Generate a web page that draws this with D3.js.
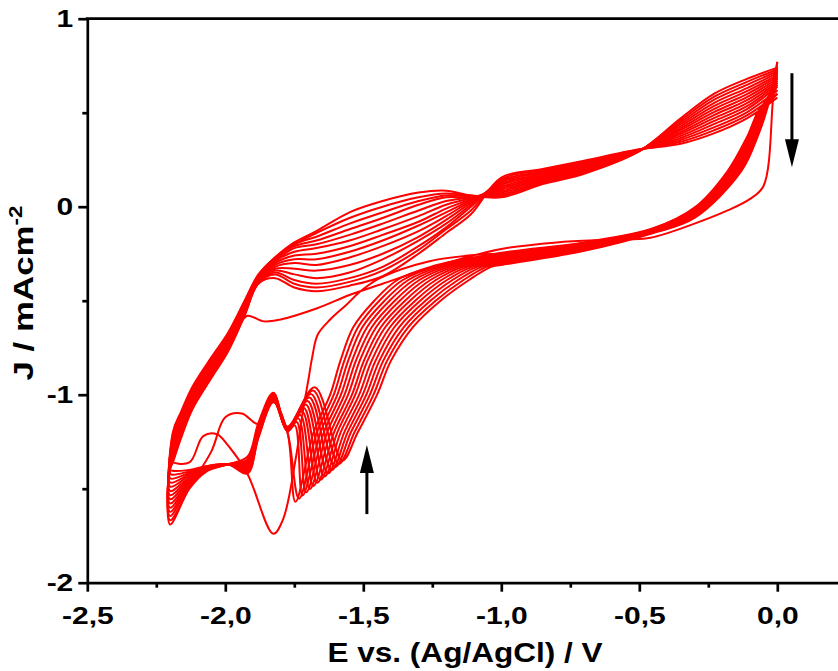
<!DOCTYPE html>
<html>
<head>
<meta charset="utf-8">
<script src="https://cdn.jsdelivr.net/npm/d3@7"></script>
<style>
  html, body { margin: 0; padding: 0; background: #fff; }
  svg { display: block; }
  text { font-family: Arial, "Liberation Sans", sans-serif; font-weight: bold; fill: #000; }
</style>
</head>
<body>
<svg id="chart" width="838" height="671"></svg>
<script>
// Cyclic voltammogram, 15 consecutive cycles: [E (V vs Ag/AgCl), J (mA cm^-2)]
const cycle1 = [[0,0.60],[-0.04,0.53],[-0.09,0.37],[-0.155,0.19],[-0.30,-0.03],[-0.45,-0.128],[-0.70,-0.213],[-1.00,-0.25],[-1.08,-0.255],[-1.26,-0.29],[-1.44,-0.38],[-1.51,-0.45],[-1.56,-0.52],[-1.62,-0.60],[-1.665,-0.68],[-1.685,-0.80],[-1.70,-0.93],[-1.717,-1.07],[-1.746,-1.35],[-1.79,-1.66],[-1.826,-1.74],[-1.92,-1.42],[-1.99,-1.27],[-2.03,-1.21],[-2.08,-1.22],[-2.13,-1.36],[-2.2,-1.35],
  [-2.19,-1.28],[-2.16,-1.17],[-2.12,-1.03],[-2.05,-0.87],[-1.99,-0.74],[-1.95,-0.63],[-1.92,-0.58],[-1.86,-0.61],[-1.80,-0.60],[-1.667,-0.54],[-1.55,-0.47],[-1.43,-0.41],[-1.30,-0.345],[-1.20,-0.30],[-1.00,-0.225],[-0.80,-0.19],[-0.60,-0.175],[-0.46,-0.165],[-0.30,-0.09],[-0.18,-0.02],[-0.10,0.04],[-0.05,0.11],[-0.015,0.58],[0,0.77]];
const cycle2 = [[0,0.77],[-0.035,0.53],[-0.072,0.37],[-0.13,0.19],[-0.30,-0.060],[-0.45,-0.140],[-0.70,-0.235],[-1.00,-0.310],[-1.037,-0.32],[-1.117,-0.39],[-1.220,-0.50],[-1.320,-0.64],[-1.400,-0.82],[-1.450,-1.0],[-1.520,-1.2],[-1.576,-1.350],[-1.676,-0.960],[-1.775,-1.170],[-1.826,-0.990],[-1.88,-1.150],[-1.92,-1.330],[-1.99,-1.37],[-2.07,-1.410],[-2.13,-1.500],[-2.2,-1.690],
  [-2.19,-1.200],[-2.16,-1.090],[-2.12,-0.960],[-2.05,-0.800],[-1.99,-0.670],[-1.93,-0.500],[-1.88,-0.360],
  [-1.82,-0.27],[-1.75,-0.19],[-1.67,-0.13],[-1.55,-0.03],[-1.43,0.03],[-1.30,0.075],[-1.20,0.085],[-1.11,0.06],
  [-1.00,0.050],[-0.85,0.120],[-0.70,0.175],[-0.50,0.295],[-0.35,0.470],[-0.23,0.600],[-0.11,0.680],[0,0.74]];
const cycle3 = [[0,0.74],[-0.037,0.53],[-0.075,0.37],[-0.134,0.19],[-0.30,-0.056],[-0.45,-0.138],[-0.70,-0.232],[-1.00,-0.305],[-1.054,-0.32],[-1.137,-0.39],[-1.238,-0.50],[-1.337,-0.64],[-1.414,-0.82],[-1.463,-1.0],[-1.532,-1.2],[-1.589,-1.367],[-1.682,-0.978],[-1.775,-1.172],[-1.826,-0.994],[-1.88,-1.156],[-1.94,-1.10],[-2.00,-1.12],[-2.05,-1.30],[-2.13,-1.492],[-2.2,-1.668],
  [-2.19,-1.212],[-2.16,-1.101],[-2.12,-0.969],[-2.05,-0.808],[-1.99,-0.678],[-1.93,-0.506],[-1.88,-0.364],
  [-1.82,-0.27],[-1.75,-0.20],[-1.67,-0.14],[-1.55,-0.06],[-1.43,0.00],[-1.30,0.05],[-1.20,0.07],[-1.11,0.06],
  [-1.00,0.058],[-0.85,0.126],[-0.70,0.180],[-0.50,0.296],[-0.35,0.460],[-0.23,0.584],[-0.11,0.664],[0,0.73]];
const cycle4 = [[0,0.73],[-0.039,0.53],[-0.078,0.37],[-0.138,0.19],[-0.30,-0.052],[-0.45,-0.136],[-0.70,-0.228],[-1.00,-0.300],[-1.071,-0.32],[-1.157,-0.39],[-1.257,-0.50],[-1.353,-0.64],[-1.428,-0.82],[-1.476,-1.0],[-1.545,-1.2],[-1.602,-1.384],[-1.689,-0.997],[-1.775,-1.175],[-1.826,-0.998],[-1.88,-1.162],[-1.92,-1.344],[-1.99,-1.37],[-2.07,-1.405],[-2.13,-1.485],[-2.2,-1.645],
  [-2.19,-1.225],[-2.16,-1.112],[-2.12,-0.978],[-2.05,-0.817],[-1.99,-0.685],[-1.93,-0.512],[-1.88,-0.368],
  [-1.82,-0.28],[-1.75,-0.20],[-1.67,-0.16],[-1.55,-0.09],[-1.43,-0.03],[-1.30,0.03],[-1.20,0.06],[-1.11,0.055],
  [-1.00,0.066],[-0.85,0.132],[-0.70,0.186],[-0.50,0.297],[-0.35,0.449],[-0.23,0.568],[-0.11,0.648],[0,0.72]];
const cycle5 = [[0,0.72],[-0.041,0.53],[-0.081,0.37],[-0.142,0.19],[-0.30,-0.047],[-0.45,-0.134],[-0.70,-0.225],[-1.00,-0.295],[-1.088,-0.32],[-1.177,-0.39],[-1.275,-0.50],[-1.370,-0.64],[-1.442,-0.82],[-1.489,-1.0],[-1.557,-1.2],[-1.615,-1.401],[-1.695,-1.015],[-1.775,-1.177],[-1.826,-1.002],[-1.88,-1.168],[-1.92,-1.351],[-1.99,-1.37],[-2.07,-1.403],[-2.13,-1.477],[-2.2,-1.623],
  [-2.19,-1.237],[-2.16,-1.122],[-2.12,-0.988],[-2.05,-0.825],[-1.99,-0.693],[-1.93,-0.518],[-1.88,-0.372],
  [-1.82,-0.28],[-1.75,-0.21],[-1.67,-0.18],[-1.55,-0.12],[-1.43,-0.06],[-1.30,0.01],[-1.20,0.05],[-1.11,0.05],
  [-1.00,0.074],[-0.85,0.138],[-0.70,0.191],[-0.50,0.297],[-0.35,0.439],[-0.23,0.551],[-0.11,0.631],[0,0.71]];
const cycle6 = [[0,0.71],[-0.043,0.53],[-0.084,0.37],[-0.145,0.19],[-0.30,-0.043],[-0.45,-0.132],[-0.70,-0.221],[-1.00,-0.290],[-1.105,-0.32],[-1.197,-0.39],[-1.294,-0.50],[-1.387,-0.64],[-1.456,-0.82],[-1.502,-1.0],[-1.569,-1.2],[-1.628,-1.418],[-1.702,-1.034],[-1.775,-1.179],[-1.826,-1.005],[-1.88,-1.175],[-1.92,-1.358],[-1.99,-1.37],[-2.07,-1.401],[-2.13,-1.469],[-2.2,-1.601],
  [-2.19,-1.249],[-2.16,-1.133],[-2.12,-0.997],[-2.05,-0.834],[-1.99,-0.701],[-1.93,-0.525],[-1.88,-0.375],
  [-1.82,-0.29],[-1.75,-0.22],[-1.67,-0.20],[-1.55,-0.15],[-1.43,-0.09],[-1.30,-0.02],[-1.20,0.03],[-1.11,0.05],
  [-1.00,0.082],[-0.85,0.145],[-0.70,0.197],[-0.50,0.298],[-0.35,0.428],[-0.23,0.535],[-0.11,0.615],[0,0.70]];
const cycle7 = [[0,0.70],[-0.045,0.53],[-0.087,0.37],[-0.149,0.19],[-0.30,-0.039],[-0.45,-0.130],[-0.70,-0.218],[-1.00,-0.285],[-1.122,-0.32],[-1.217,-0.39],[-1.312,-0.50],[-1.403,-0.64],[-1.470,-0.82],[-1.515,-1.0],[-1.582,-1.2],[-1.641,-1.435],[-1.708,-1.052],[-1.775,-1.182],[-1.826,-1.009],[-1.88,-1.181],[-1.92,-1.365],[-1.99,-1.37],[-2.07,-1.398],[-2.13,-1.462],[-2.2,-1.578],
  [-2.19,-1.262],[-2.16,-1.144],[-2.12,-1.006],[-2.05,-0.842],[-1.99,-0.708],[-1.93,-0.531],[-1.88,-0.379],
  [-1.82,-0.29],[-1.75,-0.24],[-1.67,-0.22],[-1.55,-0.18],[-1.43,-0.12],[-1.30,-0.05],[-1.20,0.01],[-1.11,0.045],
  [-1.00,0.090],[-0.85,0.151],[-0.70,0.202],[-0.50,0.299],[-0.35,0.418],[-0.23,0.519],[-0.11,0.599],[0,0.69]];
const cycle8 = [[0,0.69],[-0.047,0.53],[-0.090,0.37],[-0.153,0.19],[-0.30,-0.035],[-0.45,-0.128],[-0.70,-0.214],[-1.00,-0.280],[-1.139,-0.32],[-1.237,-0.39],[-1.331,-0.50],[-1.420,-0.64],[-1.485,-0.82],[-1.529,-1.0],[-1.594,-1.2],[-1.655,-1.452],[-1.715,-1.071],[-1.775,-1.184],[-1.826,-1.013],[-1.88,-1.187],[-1.92,-1.372],[-1.99,-1.37],[-2.07,-1.396],[-2.13,-1.454],[-2.2,-1.556],
  [-2.19,-1.274],[-2.16,-1.155],[-2.12,-1.015],[-2.05,-0.851],[-1.99,-0.716],[-1.93,-0.537],[-1.88,-0.383],
  [-1.82,-0.30],[-1.75,-0.26],[-1.67,-0.25],[-1.55,-0.21],[-1.43,-0.15],[-1.30,-0.08],[-1.20,-0.01],[-1.11,0.04],
  [-1.00,0.099],[-0.85,0.157],[-0.70,0.207],[-0.50,0.300],[-0.35,0.408],[-0.23,0.503],[-0.11,0.583],[0,0.68]];
const cycle9 = [[0,0.68],[-0.048,0.53],[-0.092,0.37],[-0.157,0.19],[-0.30,-0.030],[-0.45,-0.127],[-0.70,-0.211],[-1.00,-0.275],[-1.155,-0.32],[-1.257,-0.39],[-1.349,-0.50],[-1.436,-0.64],[-1.498,-0.82],[-1.541,-1.0],[-1.606,-1.2],[-1.667,-1.468],[-1.721,-1.089],[-1.775,-1.186],[-1.826,-1.017],[-1.88,-1.193],[-1.92,-1.378],[-1.99,-1.37],[-2.07,-1.394],[-2.13,-1.446],[-2.2,-1.534],
  [-2.19,-1.286],[-2.16,-1.165],[-2.12,-1.025],[-2.05,-0.859],[-1.99,-0.724],[-1.93,-0.543],[-1.88,-0.387],
  [-1.82,-0.31],[-1.75,-0.28],[-1.67,-0.28],[-1.55,-0.24],[-1.43,-0.18],[-1.30,-0.10],[-1.20,-0.03],[-1.11,0.035],
  [-1.00,0.106],[-0.85,0.163],[-0.70,0.213],[-0.50,0.300],[-0.35,0.397],[-0.23,0.487],[-0.11,0.567],[0,0.67]];
const cycle10 = [[0,0.67],[-0.050,0.53],[-0.095,0.37],[-0.161,0.19],[-0.30,-0.026],[-0.45,-0.125],[-0.70,-0.207],[-1.00,-0.270],[-1.172,-0.32],[-1.277,-0.39],[-1.368,-0.50],[-1.453,-0.64],[-1.513,-0.82],[-1.555,-1.0],[-1.618,-1.2],[-1.681,-1.485],[-1.728,-1.108],[-1.775,-1.188],[-1.826,-1.021],[-1.88,-1.199],[-1.92,-1.385],[-1.99,-1.37],[-2.07,-1.392],[-2.13,-1.439],[-2.2,-1.512],
  [-2.19,-1.298],[-2.16,-1.176],[-2.12,-1.034],[-2.05,-0.868],[-1.99,-0.732],[-1.93,-0.549],[-1.88,-0.391],
  [-1.82,-0.32],[-1.75,-0.30],[-1.67,-0.31],[-1.55,-0.27],[-1.43,-0.21],[-1.30,-0.13],[-1.20,-0.05],[-1.11,0.03],
  [-1.00,0.115],[-0.85,0.169],[-0.70,0.218],[-0.50,0.301],[-0.35,0.387],[-0.23,0.471],[-0.11,0.551],[0,0.66]];
const cycle11 = [[0,0.66],[-0.052,0.53],[-0.098,0.37],[-0.165,0.19],[-0.30,-0.022],[-0.45,-0.123],[-0.70,-0.204],[-1.00,-0.265],[-1.189,-0.32],[-1.297,-0.39],[-1.386,-0.50],[-1.469,-0.64],[-1.527,-0.82],[-1.568,-1.0],[-1.631,-1.2],[-1.694,-1.502],[-1.735,-1.126],[-1.775,-1.191],[-1.826,-1.025],[-1.88,-1.205],[-1.92,-1.392],[-1.99,-1.37],[-2.07,-1.389],[-2.13,-1.431],[-2.2,-1.489],
  [-2.19,-1.311],[-2.16,-1.187],[-2.12,-1.043],[-2.05,-0.876],[-1.99,-0.739],[-1.93,-0.555],[-1.88,-0.395],
  [-1.82,-0.33],[-1.75,-0.33],[-1.67,-0.34],[-1.55,-0.31],[-1.43,-0.25],[-1.30,-0.16],[-1.20,-0.07],[-1.11,0.02],
  [-1.00,0.123],[-0.85,0.175],[-0.70,0.223],[-0.50,0.302],[-0.35,0.377],[-0.23,0.455],[-0.11,0.535],[0,0.65]];
const cycle12 = [[0,0.65],[-0.054,0.53],[-0.101,0.37],[-0.168,0.19],[-0.30,-0.018],[-0.45,-0.121],[-0.70,-0.200],[-1.00,-0.260],[-1.206,-0.32],[-1.317,-0.39],[-1.405,-0.50],[-1.486,-0.64],[-1.541,-0.82],[-1.581,-1.0],[-1.643,-1.2],[-1.707,-1.519],[-1.741,-1.145],[-1.775,-1.193],[-1.826,-1.028],[-1.88,-1.212],[-1.92,-1.399],[-1.99,-1.37],[-2.07,-1.387],[-2.13,-1.423],[-2.2,-1.467],
  [-2.19,-1.323],[-2.16,-1.198],[-2.12,-1.052],[-2.05,-0.885],[-1.99,-0.747],[-1.93,-0.562],[-1.88,-0.398],
  [-1.82,-0.34],[-1.75,-0.36],[-1.67,-0.38],[-1.55,-0.35],[-1.43,-0.28],[-1.30,-0.18],[-1.20,-0.09],[-1.11,0.01],
  [-1.00,0.131],[-0.85,0.182],[-0.70,0.229],[-0.50,0.303],[-0.35,0.366],[-0.23,0.439],[-0.11,0.519],[0,0.64]];
const cycle13 = [[0,0.64],[-0.056,0.53],[-0.104,0.37],[-0.172,0.19],[-0.30,-0.013],[-0.45,-0.119],[-0.70,-0.197],[-1.00,-0.255],[-1.223,-0.32],[-1.337,-0.39],[-1.423,-0.50],[-1.503,-0.64],[-1.555,-0.82],[-1.594,-1.0],[-1.655,-1.2],[-1.720,-1.536],[-1.748,-1.163],[-1.775,-1.195],[-1.826,-1.032],[-1.88,-1.218],[-1.92,-1.406],[-1.99,-1.37],[-2.07,-1.385],[-2.13,-1.415],[-2.2,-1.445],
  [-2.19,-1.335],[-2.16,-1.208],[-2.12,-1.062],[-2.05,-0.893],[-1.99,-0.755],[-1.93,-0.568],[-1.88,-0.402],
  [-1.82,-0.35],[-1.75,-0.39],[-1.67,-0.41],[-1.55,-0.38],[-1.43,-0.32],[-1.30,-0.21],[-1.20,-0.11],[-1.11,0.00],
  [-1.00,0.139],[-0.85,0.188],[-0.70,0.234],[-0.50,0.303],[-0.35,0.356],[-0.23,0.422],[-0.11,0.502],[0,0.62]];
const cycle14 = [[0,0.62],[-0.058,0.53],[-0.107,0.37],[-0.176,0.19],[-0.30,-0.009],[-0.45,-0.117],[-0.70,-0.193],[-1.00,-0.250],[-1.240,-0.32],[-1.357,-0.39],[-1.442,-0.50],[-1.519,-0.64],[-1.569,-0.82],[-1.607,-1.0],[-1.668,-1.2],[-1.733,-1.553],[-1.775,-1.198],[-1.826,-1.036],[-1.88,-1.224],[-1.92,-1.413],[-1.99,-1.37],[-2.07,-1.382],[-2.13,-1.408],[-2.2,-1.422],
  [-2.19,-1.348],[-2.16,-1.219],[-2.12,-1.071],[-2.05,-0.902],[-1.99,-0.762],[-1.93,-0.574],[-1.88,-0.406],
  [-1.82,-0.36],[-1.75,-0.41],[-1.67,-0.43],[-1.55,-0.40],[-1.43,-0.34],[-1.30,-0.23],[-1.20,-0.12],[-1.11,-0.02],
  [-1.00,0.147],[-0.85,0.194],[-0.70,0.240],[-0.50,0.304],[-0.35,0.345],[-0.23,0.406],[-0.11,0.486],[0,0.60]];
const cycle15 = [[0,0.60],[-0.060,0.53],[-0.110,0.37],[-0.180,0.19],[-0.30,-0.005],[-0.45,-0.115],[-0.70,-0.190],[-1.00,-0.245],[-1.257,-0.32],[-1.377,-0.39],[-1.460,-0.50],[-1.536,-0.64],[-1.583,-0.82],[-1.620,-1.0],[-1.680,-1.2],[-1.746,-1.570],[-1.775,-1.200],[-1.826,-1.040],[-1.88,-1.230],[-1.92,-1.420],[-1.99,-1.37],[-2.07,-1.380],[-2.13,-1.400],[-2.2,-1.400],
  [-2.19,-1.360],[-2.16,-1.230],[-2.12,-1.080],[-2.05,-0.910],[-1.99,-0.770],[-1.93,-0.580],[-1.88,-0.410],
  [-1.82,-0.38],[-1.75,-0.43],[-1.67,-0.45],[-1.55,-0.42],[-1.43,-0.37],[-1.30,-0.25],[-1.20,-0.14],[-1.11,-0.04],
  [-1.00,0.155],[-0.85,0.200],[-0.70,0.245],[-0.50,0.305],[-0.35,0.335],[-0.23,0.390],[-0.11,0.470],[0,0.58]];

const cycles = [cycle1, cycle2, cycle3, cycle4, cycle5, cycle6, cycle7, cycle8,
                cycle9, cycle10, cycle11, cycle12, cycle13, cycle14, cycle15];

// Axis ticks
const xTicks = [-2.5, -2.0, -1.5, -1.0, -0.5, 0.0];
const xMinorTicks = [-2.25, -1.75, -1.25, -0.75, -0.25, 0.25];
const yTicks = [-2, -1, 0, 1];
const yMinorTicks = [-1.5, -0.5, 0.5];

// Trend arrows: [E, J] tail -> head
const arrowDown = [[0.053, 0.71], [0.053, 0.21]];
const arrowUp = [[-1.487, -1.635], [-1.487, -1.268]];

const svg = d3.select("#chart");
const x = d3.scaleLinear().domain([-2.5, 0.3]).range([87.3, 860.1]);
const y = d3.scaleLinear().domain([-2, 1]).range([582.7, 18.7]);

const commaFmt = d => d3.format(".1f")(d).replace(".", ",").replace("\u2212", "-");

// Widen a text element horizontally (along its baseline) by factor k
function widen(sel, k) {
  sel.each(function () {
    const w = this.getComputedTextLength();
    d3.select(this).attr("textLength", w * k).attr("lengthAdjust", "spacingAndGlyphs");
  });
}

svg.append("defs").append("clipPath").attr("id", "plot")
  .append("rect").attr("x", x(-2.5)).attr("y", y(1)).attr("width", x(0.3) - x(-2.5)).attr("height", y(-2) - y(1));

// Voltammogram curves
const line = d3.line()
  .x(d => x(d[0]))
  .y(d => y(d[1]))
  .curve(d3.curveCatmullRom.alpha(0.5));

svg.append("g").attr("clip-path", "url(#plot)")
  .selectAll("path.cv").data(cycles).join("path")
  .attr("class", "cv")
  .attr("d", line)
  .attr("fill", "none")
  .attr("stroke", "#ff0000")
  .attr("stroke-width", 2)
  .attr("stroke-linejoin", "round");

// Axes
function styleAxis(g) {
  g.selectAll(".domain").attr("stroke", "#000").attr("stroke-width", 2.7);
  g.selectAll(".tick line").attr("stroke", "#000").attr("stroke-width", 2.7);
  g.selectAll(".tick text").attr("font-size", 24).attr("font-weight", "bold")
    .attr("font-family", "Arial, 'Liberation Sans', sans-serif").attr("fill", "#000");
}

const xMinor = svg.append("g").attr("transform", `translate(0,${y(-2)})`)
  .call(d3.axisBottom(x).tickValues(xMinorTicks).tickSize(5).tickFormat(""));
xMinor.select(".domain").remove();
styleAxis(xMinor);

const yMinor = svg.append("g").attr("transform", `translate(${x(-2.5)},0)`)
  .call(d3.axisLeft(y).tickValues(yMinorTicks).tickSize(5).tickFormat(""));
yMinor.select(".domain").remove();
styleAxis(yMinor);

const xAxis = svg.append("g").attr("transform", `translate(0,${y(-2)})`)
  .call(d3.axisBottom(x).tickValues(xTicks).tickSize(9).tickSizeOuter(0).tickPadding(15).tickFormat(commaFmt));
styleAxis(xAxis);
widen(xAxis.selectAll(".tick text"), 1.25);

const yAxis = svg.append("g").attr("transform", `translate(${x(-2.5)},0)`)
  .call(d3.axisLeft(y).tickValues(yTicks).tickSize(9).tickSizeOuter(0).tickPadding(5)
    .tickFormat(d => String(d).replace("\u2212", "-")));
styleAxis(yAxis);
widen(yAxis.selectAll(".tick text"), 1.25);

// Top frame line
svg.append("line")
  .attr("x1", x(-2.5) - 1.35).attr("x2", x(0.3))
  .attr("y1", y(1)).attr("y2", y(1))
  .attr("stroke", "#000").attr("stroke-width", 2.7);

// Arrows
function drawArrow(pts) {
  const [x0, y0] = [x(pts[0][0]), y(pts[0][1])];
  const [x1, y1] = [x(pts[1][0]), y(pts[1][1])];
  const dir = Math.sign(y1 - y0);
  const headLen = 28, halfW = 7;
  svg.append("line")
    .attr("x1", x0).attr("y1", y0).attr("x2", x1).attr("y2", y1 - dir * headLen * 0.8)
    .attr("stroke", "#000").attr("stroke-width", 3);
  svg.append("path")
    .attr("d", `M${x1},${y1}L${x1 - halfW},${y1 - dir * headLen}L${x1 + halfW},${y1 - dir * headLen}Z`)
    .attr("fill", "#000");
}
drawArrow(arrowDown);
drawArrow(arrowUp);

// Axis titles
svg.append("text")
  .attr("x", 465).attr("y", 662)
  .attr("text-anchor", "middle")
  .attr("font-size", 28)
  .attr("textLength", 275).attr("lengthAdjust", "spacingAndGlyphs")
  .text("E vs. (Ag/AgCl) / V");

const yTitle = svg.append("text")
  .attr("transform", "translate(33,293) rotate(-90)")
  .attr("text-anchor", "middle")
  .attr("font-size", 28)
  .attr("textLength", 175).attr("lengthAdjust", "spacingAndGlyphs");
yTitle.append("tspan").text("J / mAcm");
yTitle.append("tspan").attr("dy", -11).attr("font-size", 18).text("-2");
</script>
</body>
</html>
